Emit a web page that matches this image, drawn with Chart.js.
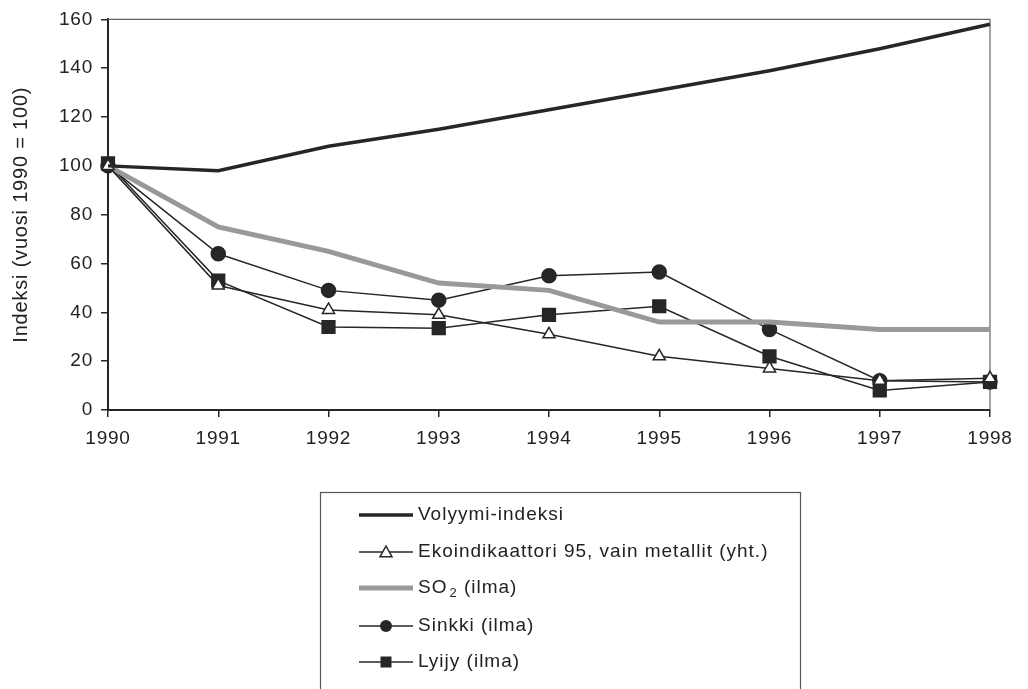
<!DOCTYPE html>
<html>
<head>
<meta charset="utf-8">
<script src="https://cdn.jsdelivr.net/npm/chart.js@4/dist/chart.umd.min.js"></script>
<style>
  html, body { margin: 0; padding: 0; background: #fff; }
  #wrap { width: 1028px; height: 689px; }
</style>
</head>
<body>
<div id="wrap"><canvas id="chart" width="1028" height="689"></canvas></div>
<script>
// Data
const years = ['1990', '1991', '1992', '1993', '1994', '1995', '1996', '1997', '1998'];
const volyymi = [100, 98, 108, 115, 123, 131, 139, 148, 158];
const ekoindikaattori = [100, 51, 41, 39, 31, 22, 17, 12, 13];
const so2 = [100, 75, 65, 52, 49, 36, 36, 33, 33];
const sinkki = [100, 64, 49, 45, 55, 56.5, 33, 12, 11.5];
const lyijy = [101, 53, 34, 33.5, 39, 42.5, 22, 8, 11.5];
const yTicks = [0, 20, 40, 60, 80, 100, 120, 140, 160];

const dark = '#262626';
const font = 'Liberation Sans, Arial, sans-serif';

// the original text is a bit wide, so space letters out a little
const spacingPlugin = {
    id: 'spacing',
    beforeInit(chart) { chart.ctx.letterSpacing = '0.8px'; },
    beforeDraw(chart) { chart.ctx.letterSpacing = '0.8px'; }
};

// Plot frame (top and right border) drawn behind the lines
const framePlugin = {
    id: 'frame',
    beforeDatasetsDraw(chart) {
        const a = chart.chartArea;
        const ctx = chart.ctx;
        ctx.save();
        ctx.strokeStyle = '#666';
        ctx.lineWidth = 1.2;
        ctx.beginPath();
        ctx.moveTo(a.left, a.top);
        ctx.lineTo(a.right, a.top);
        ctx.lineTo(a.right, a.bottom);
        ctx.stroke();
        ctx.restore();
    }
};

// Legend box under the chart, like the original
function drawMarker(ctx, style, x, y, r) {
    ctx.beginPath();
    if (style === 'circle') {
        ctx.arc(x, y, r, 0, Math.PI * 2);
        ctx.fillStyle = dark;
        ctx.fill();
    } else if (style === 'rect') {
        ctx.fillStyle = dark;
        ctx.fillRect(x - r, y - r, r * 2, r * 2);
    } else if (style === 'triangle') {
        ctx.moveTo(x, y - r);
        ctx.lineTo(x + r, y + r * 0.8);
        ctx.lineTo(x - r, y + r * 0.8);
        ctx.closePath();
        ctx.fillStyle = '#fff';
        ctx.fill();
        ctx.lineWidth = 1.5;
        ctx.strokeStyle = dark;
        ctx.stroke();
    }
}

const legendPlugin = {
    id: 'boxLegend',
    afterDraw(chart) {
        const ctx = chart.ctx;
        ctx.save();
        ctx.strokeStyle = '#555';
        ctx.lineWidth = 1.2;
        ctx.strokeRect(320.5, 492.5, 480, 220);

        const rowY = [515, 552, 588, 626, 662];
        chart.data.datasets.forEach((ds, i) => {
            const y = rowY[i];
            ctx.beginPath();
            ctx.strokeStyle = ds.borderColor;
            ctx.lineWidth = ds.borderWidth;
            ctx.moveTo(359, y);
            ctx.lineTo(413, y);
            ctx.stroke();
            if (ds.pointStyle && ds.pointRadius > 0) {
                drawMarker(ctx, ds.pointStyle, 386, y, ds.pointStyle === 'rect' ? 5.5 : 6);
            }
            ctx.fillStyle = '#222';
            ctx.textBaseline = 'middle';
            ctx.letterSpacing = '1px';
            ctx.font = '19px ' + font;
            let x = 418;
            if (ds.label === 'SO2 (ilma)') {
                ctx.fillText('SO', x, y);
                x += ctx.measureText('SO').width + 2;
                ctx.font = '13px ' + font;
                ctx.fillText('2', x, y + 5);
                x += ctx.measureText('2').width;
                ctx.font = '19px ' + font;
                ctx.fillText(' (ilma)', x, y);
            } else {
                ctx.fillText(ds.label, x, y);
            }
        });
        ctx.restore();
    }
};

new Chart(document.getElementById('chart'), {
    type: 'line',
    data: {
        labels: years,
        datasets: [
            {
                label: 'Volyymi-indeksi',
                data: volyymi,
                borderColor: dark,
                borderWidth: 3.5,
                pointRadius: 0
            },
            {
                label: 'Ekoindikaattori 95, vain metallit (yht.)',
                data: ekoindikaattori,
                borderColor: dark,
                borderWidth: 1.5,
                pointStyle: 'triangle',
                pointRadius: 7,
                pointBackgroundColor: '#fff',
                pointBorderColor: dark,
                pointBorderWidth: 1.5
            },
            {
                label: 'SO2 (ilma)',
                data: so2,
                borderColor: '#999999',
                borderWidth: 5,
                pointRadius: 0
            },
            {
                label: 'Sinkki (ilma)',
                data: sinkki,
                borderColor: dark,
                borderWidth: 1.5,
                pointStyle: 'circle',
                pointRadius: 7,
                pointBackgroundColor: dark,
                pointBorderColor: dark
            },
            {
                label: 'Lyijy (ilma)',
                data: lyijy,
                borderColor: dark,
                borderWidth: 1.5,
                pointStyle: 'rect',
                pointRadius: 9,
                pointBackgroundColor: dark,
                pointBorderColor: dark
            }
        ]
    },
    options: {
        responsive: false,
        animation: false,
        events: [],
        layout: { padding: { left: 0, right: 38, top: 19, bottom: 239 } },
        plugins: {
            legend: { display: false },
            tooltip: { enabled: false }
        },
        elements: { line: { tension: 0 } },
        scales: {
            x: {
                offset: false,
                afterFit(scale) { scale.height = 40; },
                grid: {
                    drawOnChartArea: false,
                    drawTicks: true,
                    tickLength: 7,
                    color: dark,
                    lineWidth: 1.5
                },
                border: { color: dark, width: 2 },
                ticks: {
                    color: '#222',
                    font: { family: font, size: 19 },
                    padding: 10,
                    maxRotation: 0
                }
            },
            y: {
                min: 0,
                max: 160,
                afterFit(scale) { scale.width = 108; },
                afterBuildTicks(scale) { scale.ticks = yTicks.map(v => ({ value: v })); },
                grid: {
                    drawOnChartArea: false,
                    drawTicks: true,
                    tickLength: 7,
                    color: dark,
                    lineWidth: 1.5
                },
                border: { color: dark, width: 2 },
                ticks: {
                    color: '#222',
                    font: { family: font, size: 19 },
                    padding: 8
                },
                title: {
                    display: true,
                    text: 'Indeksi (vuosi 1990 = 100)',
                    color: '#222',
                    font: { family: font, size: 20 },
                    padding: { top: 9, bottom: 4 }
                }
            }
        }
    },
    plugins: [spacingPlugin, framePlugin, legendPlugin]
});
</script>
</body>
</html>
